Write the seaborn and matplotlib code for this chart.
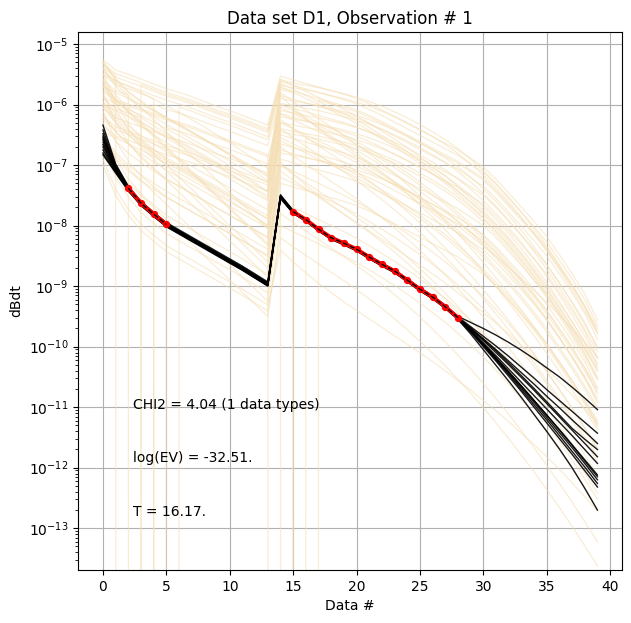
import numpy as np
import pandas as pd
import matplotlib
matplotlib.use("Agg")
import matplotlib.pyplot as plt
import seaborn as sns

# data numbers (gates) 0..39, values below stored as log10(dBdt)
data_no = list(range(40))
Z = -np.inf  # non-positive forward response (drawn as a drop off the log axis)

# prior realisations (log10 dBdt)
prior_curves = [
    [-5.26,-5.43,-5.50,-5.58,-5.66,-5.74,-5.80,-5.87,-5.95,-6.03,-6.10,-6.18,-6.26,-6.34,
     -5.53,-5.59,-5.65,-5.71,-5.77,-5.83,-5.90,-5.99,-6.09,-6.20,-6.31,-6.42,-6.53,-6.64,-6.75,-6.89,-7.03,-7.23,-7.46,-7.69,-7.93,-8.18,-8.48,-8.79,-9.13,-9.56],
    [-5.35,-5.52,Z,-5.67,-5.75,-5.83,-5.89,-5.96,-6.04,-6.12,-6.19,-6.27,-6.35,-6.43,
     -5.60,-5.64,-5.68,-5.72,-5.77,-5.82,-5.88,-5.95,-6.03,-6.12,-6.22,-6.33,-6.45,-6.58,-6.73,-6.90,-7.09,-7.30,-7.53,-7.78,-8.05,-8.34,-8.65,-8.98,-9.33,-9.70],
    [-5.40,-5.70,-5.90,-6.06,-6.20,-6.33,-6.45,-6.57,-6.69,-6.81,-6.93,-7.05,-7.17,-7.29,
     -5.75,-5.81,Z,-5.93,-5.99,-6.05,-6.12,-6.21,-6.31,-6.42,-6.53,-6.64,-6.75,-6.86,-6.97,-7.11,-7.25,-7.45,-7.68,-7.91,-8.15,-8.40,-8.70,-9.01,-9.35,-9.78],
    [-5.50,-5.67,-5.74,-5.82,-5.90,Z,-6.04,-6.11,-6.19,-6.27,-6.34,-6.42,-6.50,-6.58,
     -5.70,-5.80,-5.90,-6.00,-6.10,-6.20,-6.31,-6.43,-6.56,-6.69,-6.83,-6.98,-7.14,-7.30,-7.48,-7.67,-7.87,-8.09,-8.32,-8.57,-8.83,-9.11,-9.41,-9.72,-10.05,-10.40],
    [-5.55,-5.85,-6.05,-6.21,-6.35,-6.48,-6.60,-6.72,-6.84,-6.96,-7.08,-7.20,-7.32,-7.44,
     -5.90,-5.94,-5.98,-6.02,-6.07,-6.12,-6.18,-6.25,-6.33,-6.42,-6.52,-6.63,-6.75,-6.88,-7.03,-7.20,-7.39,-7.60,-7.83,-8.08,-8.35,-8.64,-8.95,-9.28,-9.63,-10.00],
    [-5.60,-5.77,-5.84,Z,-6.00,-6.08,-6.14,-6.21,-6.29,-6.37,-6.44,-6.52,-6.60,-6.68,
     -5.85,-5.91,-5.97,-6.03,-6.09,-6.15,-6.22,-6.31,-6.41,-6.52,-6.63,-6.74,-6.85,-6.96,-7.07,-7.21,-7.35,-7.55,-7.78,-8.01,-8.25,-8.50,-8.80,-9.11,-9.45,-9.88],
    [-5.65,-5.90,-6.10,-6.30,-6.50,-6.70,-6.90,-7.10,-7.30,-7.50,-7.70,-7.90,-8.10,-8.30,
     -6.30,-6.40,-6.50,-6.60,-6.70,-6.80,-6.91,-7.03,-7.16,-7.29,-7.43,-7.58,-7.74,-7.90,-8.08,-8.27,-8.47,-8.69,-8.92,-9.17,-9.43,-9.71,-10.01,-10.32,-10.65,-11.00],
    [-5.70,-6.00,-6.20,-6.36,-6.50,-6.63,-6.75,-6.87,-6.99,-7.11,-7.23,-7.35,-7.47,-7.59,
     -6.00,-6.06,-6.12,-6.18,-6.24,-6.30,-6.37,-6.46,-6.56,-6.67,-6.78,-6.89,-7.00,-7.11,-7.22,-7.36,-7.50,-7.70,-7.93,-8.16,-8.40,-8.65,-8.95,-9.26,-9.60,-10.03],
    [-5.75,-5.92,-5.99,-6.07,-6.15,-6.23,-6.29,-6.36,-6.44,-6.52,-6.59,-6.67,-6.75,-6.83,
     Z,-6.10,-6.24,-6.38,-6.52,-6.66,-6.81,-6.96,-7.12,-7.29,-7.47,-7.66,-7.86,-8.07,-8.29,-8.52,-8.76,-9.01,-9.27,-9.54,-9.82,-10.11,-10.41,-10.72,-11.04,-11.37],
    [-5.80,-6.30,-6.63,-6.88,-7.06,-7.23,-7.35,-7.47,-7.59,-7.71,-7.83,-7.95,-8.08,-8.21,
     -6.60,-6.70,-6.80,-6.90,-7.00,-7.10,-7.21,-7.33,-7.46,-7.59,-7.73,-7.88,-8.04,-8.20,-8.38,-8.57,-8.77,-8.99,-9.22,-9.47,-9.73,-10.01,-10.31,-10.62,-10.95,-11.30],
    [-5.85,-6.15,-6.35,-6.51,-6.65,-6.78,-6.90,-7.02,-7.14,-7.26,-7.38,-7.50,-7.62,-7.74,
     -6.10,-6.14,-6.18,-6.22,-6.27,-6.32,-6.38,-6.45,-6.53,-6.62,-6.72,-6.83,-6.95,-7.08,-7.23,-7.40,-7.59,-7.80,-8.03,-8.28,-8.55,-8.84,-9.15,-9.48,-9.83,-10.20],
    [-5.90,-6.07,-6.14,-6.22,Z,-6.38,-6.44,-6.51,-6.59,-6.67,-6.74,-6.82,-6.90,-6.98,
     -6.15,-6.21,-6.27,-6.33,-6.39,-6.45,-6.52,-6.61,-6.71,-6.82,-6.93,-7.04,-7.15,-7.26,-7.37,-7.51,-7.65,-7.85,-8.08,-8.31,-8.55,-8.80,-9.10,-9.41,-9.75,-10.18],
    [-5.95,-6.20,-6.40,-6.60,-6.80,-7.00,-7.20,-7.40,-7.60,-7.80,-8.00,-8.20,-8.40,-8.60,
     -6.70,-6.85,-6.99,-7.13,-7.27,-7.41,-7.56,-7.71,-7.87,-8.04,-8.22,-8.41,-8.61,-8.82,-9.04,-9.27,-9.51,-9.76,-10.02,-10.29,-10.57,-10.86,-11.16,-11.47,-11.79,-12.12],
    [-6.00,-6.30,-6.50,-6.66,-6.80,-6.93,-7.05,-7.17,-7.29,-7.41,-7.53,-7.65,-7.77,-7.89,
     -6.35,Z,-6.55,-6.65,-6.75,-6.85,-6.96,-7.08,-7.21,-7.34,-7.48,-7.63,-7.79,-7.95,-8.13,-8.32,-8.52,-8.74,-8.97,-9.22,-9.48,-9.76,-10.06,-10.37,-10.70,-11.05],
    [-6.05,-6.22,-6.29,-6.37,-6.45,-6.53,-6.59,-6.66,-6.74,-6.82,-6.89,-6.97,-7.05,-7.13,
     -6.30,-6.34,-6.38,-6.42,-6.47,-6.52,-6.58,-6.65,-6.73,-6.82,-6.92,-7.03,-7.15,-7.28,-7.43,-7.60,-7.79,-8.00,-8.23,-8.48,-8.75,-9.04,-9.35,-9.68,-10.03,-10.40],
    [-6.10,-6.60,-6.93,-7.18,-7.36,-7.53,-7.65,-7.77,-7.89,-8.01,-8.13,-8.25,-8.38,-8.51,
     -7.00,-7.10,-7.20,-7.30,-7.40,-7.50,-7.61,-7.73,-7.86,-7.99,-8.13,-8.28,-8.44,-8.60,-8.78,-8.97,-9.17,-9.39,-9.62,-9.87,-10.13,-10.41,-10.71,-11.02,-11.35,-11.70],
    [-6.15,-6.45,-6.65,-6.81,-6.95,-7.08,-7.20,-7.32,-7.44,-7.56,-7.68,-7.80,-7.92,-8.04,
     -6.50,-6.56,-6.62,-6.68,-6.74,-6.80,-6.87,-6.96,-7.06,-7.17,-7.28,-7.39,-7.50,-7.61,-7.72,-7.86,-8.00,-8.20,-8.43,-8.66,-8.90,-9.15,-9.45,-9.76,-10.10,-10.53],
    [-6.20,-6.45,-6.65,-6.85,-7.05,-7.25,-7.45,-7.65,-7.85,-8.05,-8.25,-8.45,-8.65,-8.85,
     -7.10,-7.25,-7.39,-7.53,-7.67,-7.81,-7.96,-8.11,-8.27,-8.44,-8.62,-8.81,-9.01,-9.22,-9.44,-9.67,-9.91,-10.16,-10.42,-10.69,-10.97,-11.26,-11.56,-11.87,-12.19,-12.52],
    [-6.25,-6.42,-6.49,-6.57,-6.65,-6.73,-6.79,-6.86,-6.94,-7.02,-7.09,-7.17,-7.25,-7.33,
     -6.55,-6.65,-6.75,-6.85,-6.95,-7.05,-7.16,-7.28,-7.41,-7.54,-7.68,-7.83,-7.99,-8.15,-8.33,-8.52,-8.72,-8.94,-9.17,-9.42,-9.68,-9.96,-10.26,-10.57,-10.90,-11.25],
    [-6.30,-6.60,-6.80,-6.96,-7.10,-7.23,-7.35,-7.47,-7.59,-7.71,-7.83,-7.95,-8.07,-8.19,
     -6.80,-6.84,-6.88,-6.92,-6.97,-7.02,-7.08,-7.15,-7.23,-7.32,-7.42,-7.53,-7.65,-7.78,-7.93,-8.10,-8.29,-8.50,-8.73,-8.98,-9.25,-9.54,-9.85,-10.18,-10.53,-10.90],
    [-6.40,-6.90,-7.23,-7.48,-7.66,-7.83,-7.95,-8.07,-8.19,-8.31,-8.43,-8.55,-8.68,-8.81,
     -7.30,-7.36,-7.42,-7.48,-7.54,-7.60,-7.67,-7.76,-7.86,-7.97,-8.08,-8.19,-8.30,-8.41,-8.52,-8.66,-8.80,-9.00,-9.23,-9.46,-9.70,-9.95,-10.25,-10.56,-10.90,-11.33],
    [-6.50,-6.80,-7.00,-7.16,-7.30,-7.43,-7.55,-7.67,-7.79,-7.91,-8.03,-8.15,-8.27,-8.39,
     -7.00,-7.15,-7.29,-7.43,-7.57,-7.71,-7.86,-8.01,-8.17,-8.34,-8.52,-8.71,-8.91,-9.12,-9.34,-9.57,-9.81,-10.06,-10.32,-10.59,-10.87,-11.16,-11.46,-11.77,-12.09,-12.42],
    [-6.60,-6.85,-7.05,-7.25,-7.45,-7.65,-7.85,-8.05,-8.25,-8.45,-8.65,-8.85,-9.05,-9.25,
     -7.60,-7.70,-7.80,-7.90,-8.00,-8.10,-8.21,-8.33,-8.46,-8.59,-8.73,-8.88,-9.04,-9.20,-9.38,-9.57,-9.77,-9.99,-10.22,-10.47,-10.73,-11.01,-11.31,-11.62,-11.95,-12.30],
    [-6.70,-7.20,-7.53,-7.78,-7.96,-8.13,-8.25,-8.37,-8.49,-8.61,-8.73,-8.85,-8.98,-9.11,
     -7.80,-7.95,-8.09,-8.23,-8.37,-8.51,-8.66,-8.81,-8.97,-9.14,-9.32,-9.51,-9.71,-9.92,-10.14,-10.37,-10.61,-10.86,-11.12,-11.39,-11.67,-11.96,-12.26,-12.57,-12.89,-13.22],
    [-6.85,-7.10,-7.30,-7.50,-7.70,-7.90,-8.10,-8.30,-8.50,-8.70,-8.90,-9.10,-9.30,-9.50,
     -8.00,-8.10,-8.20,-8.30,-8.40,-8.50,-8.61,-8.73,-8.86,-8.99,-9.13,-9.28,-9.44,-9.60,-9.78,-9.97,-10.17,-10.39,-10.62,-10.87,-11.13,-11.41,-11.71,-12.02,-12.35,-12.70],
    [-7.00,-7.50,-7.83,-8.08,-8.26,-8.43,-8.55,-8.67,-8.79,-8.91,-9.03,-9.15,-9.28,-9.41,
     -8.20,-8.35,-8.49,-8.63,-8.77,-8.91,-9.06,-9.21,-9.37,-9.54,-9.72,-9.91,-10.11,-10.32,-10.54,-10.77,-11.01,-11.26,-11.52,-11.79,-12.07,-12.36,-12.66,-12.97,-13.29,-13.62],
    [-5.45,-5.62,-5.69,-5.77,-5.85,-5.93,-5.99,-6.06,-6.14,-6.22,-6.29,-6.37,-6.45,-6.53,
     -5.65,-5.75,-5.85,-5.95,-6.05,-6.15,-6.26,-6.38,-6.51,-6.64,-6.78,-6.93,-7.09,-7.25,-7.43,-7.62,-7.82,-8.04,-8.27,-8.52,-8.78,-9.06,-9.36,-9.67,-10.00,-10.35],
    [-5.30,-5.60,-5.80,-5.96,-6.10,-6.23,-6.35,-6.47,-6.59,-6.71,-6.83,-6.95,-7.07,-7.19,
     -5.80,-5.95,-6.09,-6.23,-6.37,-6.51,-6.66,-6.81,-6.97,-7.14,-7.32,-7.51,-7.71,-7.92,-8.14,-8.37,-8.61,-8.86,-9.12,-9.39,-9.67,-9.96,-10.26,-10.57,-10.89,-11.22],
    [-6.05,-6.30,-6.50,-6.70,-6.90,-7.10,-7.30,-7.50,-7.70,-7.90,-8.10,-8.30,-8.50,-8.70,
     -6.90,-6.96,-7.02,-7.08,-7.14,-7.20,-7.27,-7.36,-7.46,-7.57,-7.68,-7.79,-7.90,-8.01,-8.12,-8.26,-8.40,-8.60,-8.83,-9.06,-9.30,-9.55,-9.85,-10.16,-10.50,-10.93],
    [-5.58,-6.08,-6.41,-6.66,-6.84,-7.01,-7.13,-7.25,-7.37,-7.49,-7.61,-7.73,-7.86,-7.99,
     -6.45,-6.49,-6.53,-6.57,-6.62,-6.67,-6.73,-6.80,-6.88,-6.97,-7.07,-7.18,-7.30,-7.43,-7.58,-7.75,-7.94,-8.15,-8.38,-8.63,-8.90,-9.19,-9.50,-9.83,-10.18,-10.55],
    [-5.32,-5.49,-5.56,-5.64,-5.72,-5.80,-5.86,-5.93,-6.01,-6.09,-6.16,-6.24,-6.32,-6.40,
     -5.58,-5.68,-5.78,-5.88,-5.98,-6.08,-6.19,-6.31,-6.44,-6.57,-6.71,-6.86,-7.02,-7.18,-7.36,-7.55,-7.75,-7.97,-8.20,-8.45,-8.71,-8.99,-9.29,-9.60,-9.93,-10.28],
    [-5.62,-5.92,-6.12,-6.28,-6.42,-6.55,-6.67,-6.79,-6.91,-7.03,-7.15,-7.27,-7.39,-7.51,
     -5.72,-5.78,-5.84,-5.90,-5.96,-6.02,-6.09,-6.18,-6.28,-6.39,-6.50,-6.61,-6.72,-6.83,-6.94,-7.08,-7.22,-7.42,-7.65,-7.88,-8.12,-8.37,-8.67,-8.98,-9.32,-9.75],
    [-5.78,-5.95,-6.02,-6.10,-6.18,-6.26,-6.32,-6.39,-6.47,-6.55,-6.62,-6.70,-6.78,-6.86,
     -6.20,-6.24,-6.28,-6.32,-6.37,-6.42,-6.48,-6.55,-6.63,-6.72,-6.82,-6.93,-7.05,-7.18,-7.33,-7.50,-7.69,-7.90,-8.13,-8.38,-8.65,-8.94,-9.25,-9.58,-9.93,-10.30],
    [-5.95,-6.25,-6.45,-6.61,-6.75,-6.88,-7.00,-7.12,-7.24,-7.36,-7.48,-7.60,-7.72,-7.84,
     -6.25,-6.40,-6.54,-6.68,-6.82,-6.96,-7.11,-7.26,-7.42,-7.59,-7.77,-7.96,-8.16,-8.37,-8.59,-8.82,-9.06,-9.31,-9.57,-9.84,-10.12,-10.41,-10.71,-11.02,-11.34,-11.67],
    [-6.35,-6.52,-6.59,-6.67,-6.75,-6.83,-6.89,-6.96,-7.04,-7.12,-7.19,-7.27,-7.35,-7.43,
     -6.65,-6.71,-6.77,-6.83,-6.89,-6.95,-7.02,-7.11,-7.21,-7.32,-7.43,-7.54,-7.65,-7.76,-7.87,-8.01,-8.15,-8.35,-8.58,-8.81,-9.05,-9.30,-9.60,-9.91,-10.25,-10.68],
    [-5.40,-5.65,-5.85,-6.05,-6.25,-6.45,-6.65,-6.85,-7.05,-7.25,-7.45,-7.65,-7.85,-8.05,
     -6.05,-6.15,-6.25,-6.35,-6.45,-6.55,-6.66,-6.78,-6.91,-7.04,-7.18,-7.33,-7.49,-7.65,-7.83,-8.02,-8.22,-8.44,-8.67,-8.92,-9.18,-9.46,-9.76,-10.07,-10.40,-10.75],
    [-5.50,-5.60,-5.70,-5.80,-5.91,-6.02,-6.13,-6.25,-6.37,-6.50,-6.63,-6.77,-6.91,-7.06,
     -5.85,-6.05,-6.23,-6.40,-6.56,-6.71,-6.85,-6.99,-7.13,-7.27,-7.41,-7.55,-7.70,-7.85,-8.01,-8.17,-8.34,-8.51,-8.69,-8.88,-9.07,-9.27,-9.48,-9.70,-9.93,-10.17],
    [-5.70,-5.80,-5.90,-6.00,-6.11,-6.22,-6.33,-6.45,-6.57,-6.70,-6.83,-6.97,-7.11,-7.26,
     -6.00,-6.10,-6.20,-6.30,-6.40,-6.50,-6.61,-6.73,-6.86,-6.99,-7.13,-7.28,-7.44,-7.60,-7.78,-7.97,-8.17,-8.39,-8.62,-8.87,-9.13,-9.41,-9.71,-10.02,-10.35,-10.70],
    [-6.00,-6.10,-6.20,-6.30,-6.41,-6.52,-6.63,-6.75,-6.87,-7.00,-7.13,-7.27,-7.41,-7.56,
     -6.40,-6.44,-6.48,-6.52,-6.57,-6.62,-6.68,-6.75,-6.83,-6.92,-7.02,-7.13,-7.25,-7.38,-7.53,-7.70,-7.89,-8.10,-8.33,-8.58,-8.85,-9.14,-9.45,-9.78,-10.13,-10.50],
    [-6.45,-6.55,-6.65,-6.75,-6.86,-6.97,-7.08,-7.20,-7.32,-7.45,-7.58,-7.72,-7.86,-8.01,
     -6.95,-7.15,-7.33,-7.50,-7.66,-7.81,-7.95,-8.09,-8.23,-8.37,-8.51,-8.65,-8.80,-8.95,-9.11,-9.27,-9.44,-9.61,-9.79,-9.98,-10.17,-10.37,-10.58,-10.80,-11.03,-11.27],
    [-5.28,-5.58,-5.78,-5.94,-6.08,-6.21,-6.33,-6.45,-6.57,-6.69,-6.81,-6.93,-7.05,-7.17,
     -5.62,-5.68,-5.74,-5.80,-5.86,-5.92,-5.99,-6.08,-6.18,-6.29,-6.40,-6.51,-6.62,-6.73,-6.84,-6.98,-7.12,-7.32,-7.55,-7.78,-8.02,-8.27,-8.57,-8.88,-9.22,-9.65],
    [-5.38,-5.55,-5.62,-5.70,-5.78,-5.86,-5.92,-5.99,-6.07,-6.15,-6.22,-6.30,-6.38,-6.46,
     -5.68,-5.72,-5.76,-5.80,-5.85,-5.90,-5.96,-6.03,-6.11,-6.20,-6.30,-6.41,-6.53,-6.66,-6.81,-6.98,-7.17,-7.38,-7.61,-7.86,-8.13,-8.42,-8.73,-9.06,-9.41,-9.78],
    [-6.60,-6.90,-7.10,-7.26,-7.40,-7.53,-7.65,-7.77,-7.89,-8.01,-8.13,-8.25,-8.37,-8.49,
     -7.20,-7.30,-7.40,-7.50,-7.60,-7.70,-7.81,-7.93,-8.06,-8.19,-8.33,-8.48,-8.64,-8.80,-8.98,-9.17,-9.37,-9.59,-9.82,-10.07,-10.33,-10.61,-10.91,-11.22,-11.55,-11.90],
    [-6.90,-7.40,-7.73,-7.98,-8.16,-8.33,-8.45,-8.57,-8.69,-8.81,-8.93,-9.05,-9.18,-9.31,
     -8.40,-8.60,-8.78,-8.95,-9.11,-9.26,-9.40,-9.54,-9.68,-9.82,-9.96,-10.10,-10.25,-10.40,-10.56,-10.72,-10.89,-11.06,-11.24,-11.43,-11.62,-11.82,-12.03,-12.25,-12.48,-12.72],
    [-6.20,-6.37,-6.44,-6.52,-6.60,-6.68,-6.74,-6.81,-6.89,-6.97,-7.04,-7.12,-7.20,-7.28,
     -6.40,-6.55,-6.69,-6.83,-6.97,-7.11,-7.26,-7.41,-7.57,-7.74,-7.92,-8.11,-8.31,-8.52,-8.74,-8.97,-9.21,-9.46,-9.72,-9.99,-10.27,-10.56,-10.86,-11.17,-11.49,-11.82],
    [-5.68,-5.93,-6.13,-6.33,-6.53,-6.73,-6.93,-7.13,-7.33,-7.53,-7.73,-7.93,-8.13,-8.33,
     -6.75,-6.81,-6.87,-6.93,-6.99,-7.05,-7.12,-7.21,-7.31,-7.42,-7.53,-7.64,-7.75,-7.86,-7.97,-8.11,-8.25,-8.45,-8.68,-8.91,-9.15,-9.40,-9.70,-10.01,-10.35,-10.78],
    [-5.48,-5.98,-6.31,-6.56,-6.74,-6.91,-7.03,-7.15,-7.27,-7.39,-7.51,-7.63,-7.76,-7.89,
     -6.15,-6.25,-6.35,-6.45,-6.55,-6.65,-6.76,-6.88,-7.01,-7.14,-7.28,-7.43,-7.59,-7.75,-7.93,-8.12,-8.32,-8.54,-8.77,-9.02,-9.28,-9.56,-9.86,-10.17,-10.50,-10.85],
    [-5.88,-5.98,-6.08,-6.18,-6.29,-6.40,-6.51,-6.63,-6.75,-6.88,-7.01,-7.15,-7.29,-7.44,
     -5.98,-6.02,-6.06,-6.10,-6.15,-6.20,-6.26,-6.33,-6.41,-6.50,-6.60,-6.71,-6.83,-6.96,-7.11,-7.28,-7.47,-7.68,-7.91,-8.16,-8.43,-8.72,-9.03,-9.36,-9.71,-10.08],
]

# posterior realisations (log10 dBdt)
posterior_curves = [
    [-6.34,-6.98,-7.35,-7.60,-7.78,-7.95,-8.07,-8.19,-8.31,-8.43,-8.55,-8.67,-8.80,-8.93,
     -7.49,-7.75,-7.89,-8.04,-8.18,-8.28,-8.38,-8.50,-8.62,-8.74,-8.88,-9.03,-9.16,-9.32,-9.50,
     -9.60,-9.70,-9.81,-9.93,-10.06,-10.20,-10.35,-10.50,-10.67,-10.85,-11.04],
    [-6.42,-7.00,-7.36,-7.62,-7.80,-7.97,-8.09,-8.21,-8.33,-8.45,-8.57,-8.69,-8.82,-8.95,
     -7.51,-7.76,-7.90,-8.05,-8.19,-8.28,-8.38,-8.51,-8.63,-8.74,-8.89,-9.04,-9.17,-9.33,-9.51,
     -9.67,-9.83,-9.99,-10.16,-10.34,-10.52,-10.71,-10.89,-11.07,-11.25,-11.43],
    [-6.48,-7.02,-7.38,-7.64,-7.82,-7.99,-8.11,-8.23,-8.35,-8.47,-8.59,-8.71,-8.84,-8.97,
     -7.53,-7.78,-7.91,-8.07,-8.21,-8.30,-8.40,-8.53,-8.65,-8.76,-8.91,-9.06,-9.19,-9.35,-9.53,
     -9.69,-9.87,-10.05,-10.24,-10.43,-10.62,-10.82,-11.01,-11.21,-11.40,-11.60],
    [-6.52,-7.04,-7.37,-7.62,-7.80,-7.97,-8.09,-8.21,-8.33,-8.45,-8.57,-8.69,-8.82,-8.95,
     -7.51,-7.76,-7.89,-8.05,-8.19,-8.28,-8.38,-8.51,-8.63,-8.74,-8.89,-9.04,-9.17,-9.33,-9.51,
     -9.71,-9.90,-10.10,-10.30,-10.51,-10.72,-10.94,-11.16,-11.38,-11.60,-11.82],
    [-6.55,-7.05,-7.39,-7.64,-7.82,-7.99,-8.11,-8.23,-8.35,-8.47,-8.59,-8.71,-8.84,-8.97,
     -7.53,-7.78,-7.91,-8.07,-8.21,-8.30,-8.40,-8.53,-8.65,-8.76,-8.91,-9.06,-9.19,-9.35,-9.53,
     -9.73,-9.94,-10.15,-10.37,-10.59,-10.81,-11.03,-11.25,-11.47,-11.70,-11.93],
    [-6.58,-7.06,-7.38,-7.63,-7.81,-7.98,-8.10,-8.22,-8.34,-8.46,-8.58,-8.70,-8.83,-8.96,
     -7.51,-7.77,-7.90,-8.06,-8.20,-8.29,-8.39,-8.52,-8.64,-8.75,-8.90,-9.05,-9.18,-9.34,-9.52,
     -9.74,-9.96,-10.19,-10.42,-10.65,-10.89,-11.13,-11.37,-11.62,-11.87,-12.12],
    [-6.62,-7.08,-7.40,-7.65,-7.83,-8.00,-8.12,-8.24,-8.36,-8.48,-8.60,-8.73,-8.86,-8.99,
     -7.54,-7.79,-7.92,-8.08,-8.22,-8.31,-8.41,-8.54,-8.66,-8.77,-8.92,-9.07,-9.20,-9.36,-9.54,
     -9.74,-9.97,-10.20,-10.44,-10.68,-10.92,-11.17,-11.42,-11.67,-11.93,-12.20],
    [-6.66,-7.09,-7.41,-7.66,-7.84,-8.01,-8.13,-8.25,-8.37,-8.49,-8.61,-8.73,-8.86,-8.99,
     -7.54,-7.79,-7.92,-8.08,-8.22,-8.31,-8.41,-8.54,-8.66,-8.77,-8.92,-9.07,-9.20,-9.36,-9.54,
     -9.75,-9.98,-10.22,-10.46,-10.71,-10.96,-11.21,-11.47,-11.73,-11.99,-12.26],
    [-6.70,-7.10,-7.42,-7.67,-7.85,-8.02,-8.14,-8.26,-8.38,-8.50,-8.62,-8.74,-8.87,-9.00,
     -7.55,-7.80,-7.93,-8.09,-8.23,-8.32,-8.42,-8.55,-8.67,-8.78,-8.93,-9.08,-9.21,-9.37,-9.55,
     -9.76,-10.00,-10.24,-10.49,-10.74,-11.00,-11.26,-11.52,-11.78,-12.05,-12.32],
    [-6.75,-7.11,-7.41,-7.65,-7.83,-8.00,-8.12,-8.24,-8.36,-8.48,-8.60,-8.72,-8.85,-8.98,
     -7.54,-7.79,-7.92,-8.08,-8.22,-8.31,-8.41,-8.54,-8.66,-8.77,-8.92,-9.07,-9.20,-9.36,-9.55,
     -9.79,-10.05,-10.31,-10.57,-10.84,-11.12,-11.40,-11.69,-12.00,-12.34,-12.70],
    [-6.80,-7.12,-7.40,-7.63,-7.81,-7.98,-8.10,-8.22,-8.34,-8.46,-8.58,-8.70,-8.83,-8.96,
     -7.52,-7.77,-7.90,-8.06,-8.20,-8.29,-8.39,-8.52,-8.64,-8.75,-8.90,-9.05,-9.18,-9.34,-9.52,
     -9.73,-9.95,-10.18,-10.41,-10.65,-10.89,-11.13,-11.38,-11.63,-11.89,-12.15],
    [-6.83,-7.13,-7.43,-7.66,-7.84,-8.01,-8.13,-8.25,-8.37,-8.49,-8.61,-8.73,-8.86,-8.99,
     -7.53,-7.78,-7.91,-8.07,-8.21,-8.30,-8.40,-8.53,-8.65,-8.76,-8.91,-9.06,-9.19,-9.35,-9.53,
     -9.70,-9.88,-10.07,-10.27,-10.48,-10.69,-10.91,-11.13,-11.35,-11.53,-11.70],
]

# observed data (log10 dBdt)
obs_no = [2, 3, 4, 5, 15, 16, 17, 18, 19, 20, 21, 22, 23, 24, 25, 26, 27, 28]
obs_log = [-7.38, -7.63, -7.81, -7.98,
           -7.77, -7.90, -8.06, -8.20, -8.29, -8.39, -8.52, -8.64, -8.75, -8.90, -9.05, -9.18, -9.34, -9.52]
obs_segment = [0, 0, 0, 0] + [1] * 14

title = "Data set D1, Observation # 1"
info_lines = ["CHI2 = 4.04 (1 data types)", "log(EV) = -32.51.", "T = 16.17."]


def to_long(curves):
    rows = []
    for i, c in enumerate(curves):
        assert len(c) == len(data_no), (i, len(c))
        for x, v in zip(data_no, c):
            rows.append((i, x, 10.0 ** v))
    return pd.DataFrame(rows, columns=["curve", "data_no", "dBdt"])


df_prior = to_long(prior_curves)
df_post = to_long(posterior_curves)
df_obs = pd.DataFrame({"data_no": obs_no,
                       "dBdt": [10.0 ** v for v in obs_log],
                       "segment": obs_segment})

fig, ax = plt.subplots(figsize=(6.31, 6.23), dpi=100)
fig.subplots_adjust(left=0.124, right=0.986, top=0.9486, bottom=0.0851)
ax.set_yscale("log")

sns.lineplot(data=df_prior, x="data_no", y="dBdt", units="curve", estimator=None,
             color="wheat", alpha=0.55, lw=0.9, ax=ax, legend=False)
sns.lineplot(data=df_post, x="data_no", y="dBdt", units="curve", estimator=None,
             color="k", alpha=0.9, lw=1.0, ax=ax, legend=False)
sns.lineplot(data=df_obs, x="data_no", y="dBdt", units="segment", estimator=None,
             color="r", lw=2.8, marker="o", markersize=4.5, markeredgecolor="r",
             ax=ax, legend=False)
sns.lineplot(data=df_obs, x="data_no", y="dBdt", units="segment", estimator=None,
             color="k", lw=1, linestyle="--", ax=ax, legend=False)

ax.set_xlim(-1.95, 40.95)
ax.set_ylim(2.04e-14, 1.58e-5)
ax.grid(True)
ax.set_title(title)
ax.set_xlabel("Data #")
ax.set_ylabel("dBdt")

for i, txt in enumerate(info_lines):
    ax.text(0.1, 0.3 - 0.1 * i, txt, transform=ax.transAxes)

fig.savefig("out.png", dpi=100)
